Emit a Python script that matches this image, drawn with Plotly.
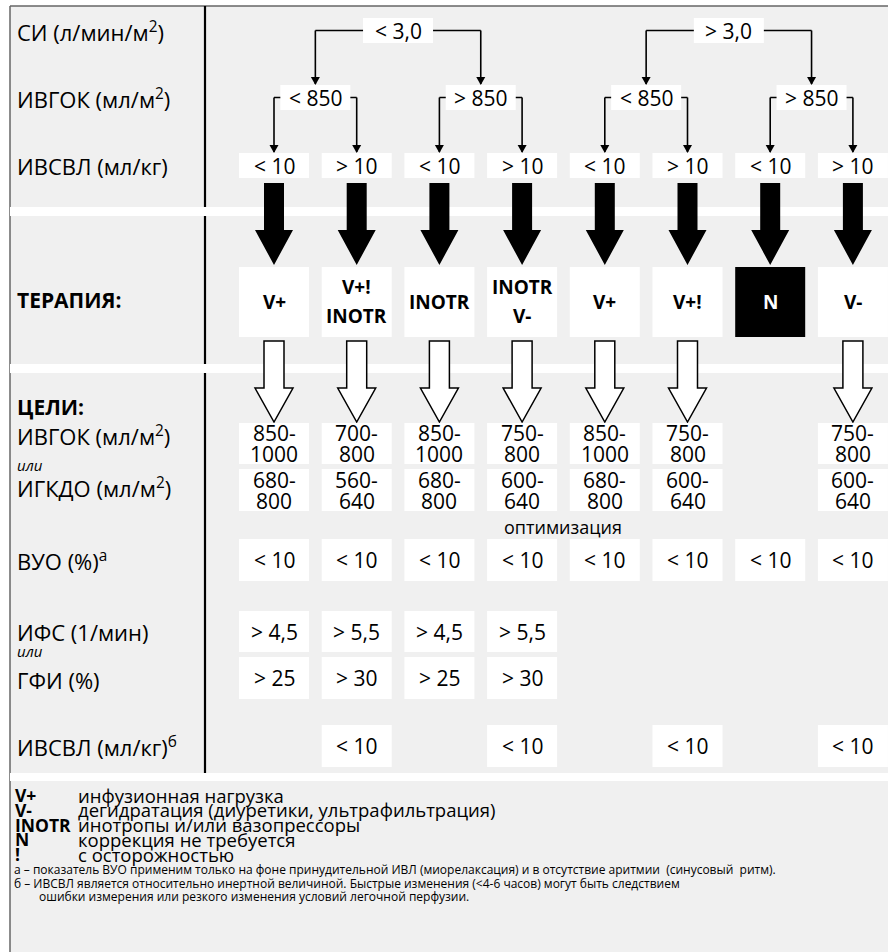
import plotly.graph_objects as go

W, H = 888, 952
FONT = "Open Sans"

# ---------------- data ----------------
row_labels = ["СИ (л/мин/м<sup>2</sup>)", "ИВГОК (мл/м<sup>2</sup>)", "ИВСВЛ (мл/кг)"]
section_labels = ["ТЕРАПИЯ:", "ЦЕЛИ:"]
goal_labels = ["ИВГОК (мл/м<sup>2</sup>)", "ИГКДО (мл/м<sup>2</sup>)", "ВУО (%)<sup>а</sup>",
               "ИФС (1/мин)", "ГФИ (%)", "ИВСВЛ (мл/кг)<sup>б</sup>"]
or_label = "или"
si_labels = ["< 3,0", "> 3,0"]
ivgok_labels = ["< 850", "> 850", "< 850", "> 850"]
ivsvl_labels = ["< 10", "> 10", "< 10", "> 10", "< 10", "> 10", "< 10", "> 10"]
therapy = [["V+"], ["V+!", "INOTR"], ["INOTR"], ["INOTR", "V-"], ["V+"], ["V+!"], ["N"], ["V-"]]
no_action = "N"
goal_ivgok = [["850-", "1000"], ["700-", "800"], ["850-", "1000"], ["750-", "800"],
              ["850-", "1000"], ["750-", "800"], None, ["750-", "800"]]
goal_igkdo = [["680-", "800"], ["560-", "640"], ["680-", "800"], ["600-", "640"],
              ["680-", "800"], ["600-", "640"], None, ["600-", "640"]]
optim_note = "оптимизация"
goal_vuo = ["< 10", "< 10", "< 10", "< 10", "< 10", "< 10", "< 10", "< 10"]
goal_ifs = ["> 4,5", "> 5,5", "> 4,5", "> 5,5", None, None, None, None]
goal_gfi = ["> 25", "> 30", "> 25", "> 30", None, None, None, None]
goal_ivsvl = [None, "< 10", None, "< 10", None, "< 10", None, "< 10"]
legend_abbr = ["V+", "V-", "INOTR", "N", "!"]
legend_text = ["инфузионная нагрузка", "дегидратация (диуретики, ультрафильтрация)",
               "инотропы и/или вазопрессоры", "коррекция не требуется", "с осторожностью"]
footnotes = [
    "а – показатель ВУО применим только на фоне принудительной ИВЛ (миорелаксация) и в отсутствие аритмии  (синусовый  ритм).",
    "б – ИВСВЛ является относительно инертной величиной. Быстрые изменения (<4-6 часов) могут быть следствием",
    "ошибки измерения или резкого изменения условий легочной перфузии.",
]

# ---------------- geometry ----------------
C0, STEP = 274.0, 82.7
cols = [C0 + STEP * i for i in range(8)]
BW = 70  # box width
VAL = 21  # value font size

shapes = []
annotations = []


def rect(x0, y0, x1, y1, fill="white", line=None, lw=0):
    shapes.append(dict(type="rect", xref="x", yref="y", x0=x0, y0=y0, x1=x1, y1=y1,
                       fillcolor=fill, line=dict(color=line or fill, width=lw), layer="above"))


def line(x0, y0, x1, y1, color="black", w=1.6):
    shapes.append(dict(type="line", xref="x", yref="y", x0=x0, y0=y0, x1=x1, y1=y1,
                       line=dict(color=color, width=w), layer="above"))


def path(d, fill="black", lc="black", lw=0):
    shapes.append(dict(type="path", xref="x", yref="y", path=d, fillcolor=fill,
                       line=dict(color=lc, width=lw), layer="above"))


def text(x, y, s, size=21, bold=False, italic=False, color="black", xanchor="center"):
    annotations.append(dict(x=x, y=y, xref="x", yref="y", text=s, showarrow=False,
                            xanchor=xanchor, yanchor="middle",
                            font=dict(family=FONT, size=size, color=color,
                                      weight="bold" if bold else "normal",
                                      style="italic" if italic else "normal")))


def small_head(x, ytip):
    path(f"M {x-4.5} {ytip-8} L {x+4.5} {ytip-8} L {x} {ytip} Z")


# background panel and border
rect(10, 6, W, H, fill="#f0f0f0")
line(10, 6, W, 6, color="#666666", w=1.5)
line(10, 6, 10, H, color="#666666", w=1.5)
# white separator bands
for y0, y1 in [(207, 216), (364, 373), (773, 781)]:
    rect(10, y0, W, y1, fill="white")
# vertical divider
for y0, y1 in [(6, 207), (216, 364), (373, 773)]:
    line(205, y0, 205, y1, color="black", w=2.2)

# level 1: СИ
for k, lab in enumerate(si_labels):
    left = (cols[4 * k] + cols[4 * k + 1]) / 2
    right = (cols[4 * k + 2] + cols[4 * k + 3]) / 2
    cx = (cols[4 * k + 1] + cols[4 * k + 2]) / 2
    y = 30.5
    line(left, y, right, y)
    line(left, y, left, 84)
    line(right, y, right, 84)
    small_head(left, 85)
    small_head(right, 85)
    rect(cx - BW / 2, 18, cx + BW / 2, 43)
    text(cx, y, lab, size=VAL)

# level 2: ИВГОК
for k, lab in enumerate(ivgok_labels):
    a, b = cols[2 * k], cols[2 * k + 1]
    cx = (a + b) / 2
    y = 97.5
    line(a, y, b, y)
    line(a, y, a, 152)
    line(b, y, b, 152)
    small_head(a, 153)
    small_head(b, 153)
    rect(cx - BW / 2, 85, cx + BW / 2, 110)
    text(cx, y, lab, size=VAL)

# level 3: ИВСВЛ
for c, lab in zip(cols, ivsvl_labels):
    rect(c - BW / 2, 153, c + BW / 2, 178)
    text(c, 165.5, lab, size=VAL)

# big black arrows + therapy boxes
for c, th in zip(cols, therapy):
    path(f"M {c-10} 183 L {c+10} 183 L {c+10} 230 L {c+19} 230 L {c} 265 "
         f"L {c-19} 230 L {c-10} 230 Z")
    dark = th == [no_action]
    rect(c - 35, 267, c + 35, 337, fill="black" if dark else "white")
    if len(th) == 1:
        text(c, 302, th[0], size=19, bold=True, color="white" if dark else "black")
    else:
        text(c, 287, th[0], size=19, bold=True)
        text(c, 316, th[1], size=19, bold=True)
    if not dark:
        path(f"M {c-10} 341 L {c+10} 341 L {c+10} 388 L {c+19} 388 L {c} 422 "
             f"L {c-19} 388 L {c-10} 388 Z", fill="white", lc="black", lw=1.5)


def two_line_boxes(vals, y0, y1):
    for c, v in zip(cols, vals):
        if v is None:
            continue
        rect(c - BW / 2, y0, c + BW / 2, y1)
        m = (y0 + y1) / 2
        text(c, m - 10.5, v[0], size=VAL)
        text(c, m + 10.5, v[1], size=VAL)


def one_line_boxes(vals, y0, y1):
    for c, v in zip(cols, vals):
        if v is None:
            continue
        rect(c - BW / 2, y0, c + BW / 2, y1)
        text(c, (y0 + y1) / 2, v, size=VAL)


two_line_boxes(goal_ivgok, 423, 464)
two_line_boxes(goal_igkdo, 469, 511)
text((cols[3] + cols[4]) / 2, 527, optim_note, size=18)
one_line_boxes(goal_vuo, 539, 581)
one_line_boxes(goal_ifs, 611, 652)
one_line_boxes(goal_gfi, 657, 699)
one_line_boxes(goal_ivsvl, 725, 767)

# left labels
LX = 15
for lab, y in zip(row_labels, [31, 98, 166]):
    text(LX, y, lab, size=22, xanchor="left")
text(LX, 300, section_labels[0], size=21, bold=True, xanchor="left")
text(LX, 407, section_labels[1], size=21, bold=True, xanchor="left")
for lab, y in zip(goal_labels, [435, 487, 560, 632, 680, 746]):
    text(LX, y, lab, size=22, xanchor="left")
text(LX, 465, or_label, size=15, italic=True, xanchor="left")
text(LX, 651, or_label, size=15, italic=True, xanchor="left")

# legend
for i, (ab, tx) in enumerate(zip(legend_abbr, legend_text)):
    y = 795 + 14.8 * i
    text(13, y, ab, size=17.5, bold=True, xanchor="left")
    text(76, y, tx, size=18.5, xanchor="left")

# footnotes
text(12, 869, footnotes[0], size=12, xanchor="left")
text(12, 883, footnotes[1], size=12, xanchor="left")
text(37, 896, footnotes[2], size=12, xanchor="left")

fig = go.Figure()
fig.update_layout(
    width=W, height=H, margin=dict(l=0, r=0, t=0, b=0),
    paper_bgcolor="white", plot_bgcolor="white",
    xaxis=dict(range=[0, W], visible=False, fixedrange=True),
    yaxis=dict(range=[H, 0], visible=False, fixedrange=True),
    shapes=shapes, annotations=annotations, showlegend=False,
)
fig.write_html("out.html", config={"displayModeBar": False},
               post_script="document.body.style.margin='0';document.body.style.overflow='hidden';")
